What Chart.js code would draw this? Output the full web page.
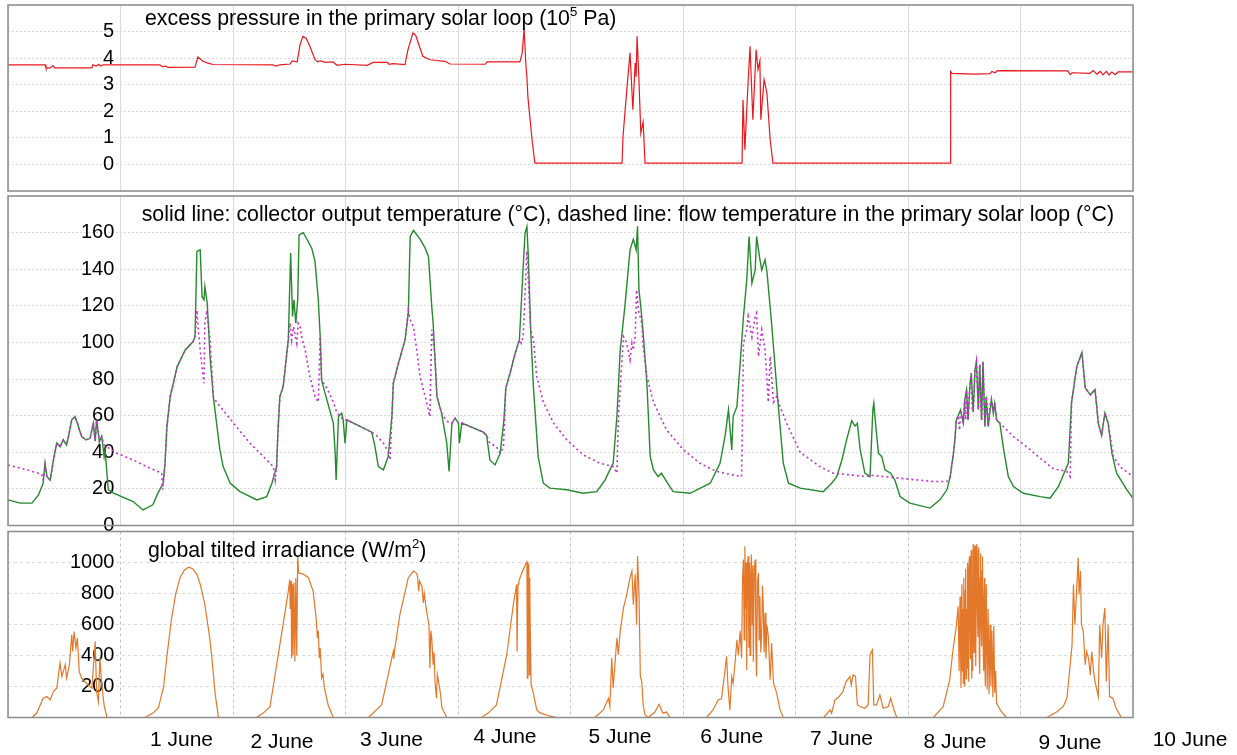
<!DOCTYPE html>
<html>
<head>
<meta charset="utf-8">
<title>Solar loop, 31 May - 10 June</title>
<script src="https://cdn.jsdelivr.net/npm/chart.js@4.4.1/dist/chart.umd.min.js"></script>
<style>
  body { margin: 0; background: #fff; }
  canvas { position: absolute; left: 0; top: 0; }
</style>
</head>
<body>
<canvas id="canvasPressure" width="1237" height="755"></canvas>
<canvas id="canvasTemp" width="1237" height="755"></canvas>
<canvas id="canvasIrr" width="1237" height="755"></canvas>
<script>
"use strict";

// time axis: hours since 31 May 00:00
var dayNames = ['1 June', '2 June', '3 June', '4 June', '5 June', '6 June', '7 June', '8 June', '9 June', '10 June'];

// excess pressure, 10^5 Pa  [hour, value]
var pressure = [
	[0, 3.75], [7.9, 3.75], [8.1, 3.63], [9.0, 3.63], [9.6, 3.72], [10.0, 3.63], [17.9, 3.63], [18.1, 3.75],
	[18.8, 3.70], [19.4, 3.77], [19.8, 3.70], [20.3, 3.75], [32.4, 3.75], [32.9, 3.68], [33.7, 3.70], [34.1, 3.65],
	[39.9, 3.66], [40.5, 4.04], [41.6, 3.88], [42.5, 3.82], [43.7, 3.76], [56.5, 3.75], [57.2, 3.70], [58.0, 3.75],
	[60.2, 3.78], [60.6, 3.90], [61.7, 3.86], [62.3, 4.50], [62.9, 4.82], [63.6, 4.75], [64.4, 4.45], [65.5, 3.94],
	[66.1, 3.86], [66.6, 3.90], [67.8, 3.84], [69.3, 3.86], [70.2, 3.73], [71.9, 3.77], [76.6, 3.73], [77.9, 3.84],
	[80.9, 3.84], [81.3, 3.77], [82.1, 3.79], [84.7, 3.76], [85.3, 4.30], [86.4, 4.95], [87.0, 4.85], [87.5, 4.58],
	[88.5, 4.07], [90.0, 3.94], [91.1, 3.92], [93.2, 3.88], [94.3, 3.78], [101.8, 3.77], [102.2, 3.86], [109.2, 3.86],
	[109.7, 4.20], [110.1, 5.10], [110.5, 3.70], [110.7, 3.30], [110.9, 2.56], [111.8, 0.92], [112.4, 0.05],
	[131.0, 0.05], [131.2, 1.05], [132.1, 3.00], [132.7, 4.20], [133.3, 2.06], [133.8, 3.82], [134.0, 3.30],
	[134.2, 4.82], [134.6, 3.19], [135.0, 1.18], [135.5, 1.60], [135.9, 0.05], [156.6, 0.05], [156.8, 2.43],
	[157.2, 0.55], [157.7, 2.43], [158.3, 4.45], [158.9, 1.68], [159.6, 4.32], [160.0, 3.57], [160.4, 3.90],
	[160.6, 1.68], [161.3, 3.19], [161.9, 2.69], [162.6, 0.92], [163.2, 0.05], [201.0, 0.05], [201.1, 3.50],
	[201.4, 3.43], [206.3, 3.40], [209.5, 3.42], [209.9, 3.50], [210.6, 3.45], [211.0, 3.52], [211.6, 3.53],
	[226.1, 3.52], [226.6, 3.38], [227.0, 3.45], [230.8, 3.43], [231.5, 3.53], [232.3, 3.40], [233.0, 3.50],
	[233.6, 3.37], [234.3, 3.50], [234.9, 3.36], [235.5, 3.48], [236.2, 3.38], [236.8, 3.48], [240, 3.48]
];

// collector output temperature, °C
var collectorTemp = [
	[0, 14.0], [2.6, 12.2], [5.1, 12.2], [6.5, 16.7], [7.5, 23.1], [7.9, 34], [8.3, 26.7], [9.0, 24.9], [9.7, 35.8],
	[10.4, 45], [11.1, 43], [11.8, 46.8], [12.5, 44], [12.9, 48.6], [13.6, 57.7], [14.3, 59.5], [14.8, 55.9],
	[15.7, 48.6], [16.6, 46.8], [17.5, 47.5], [18.2, 55.9], [18.6, 46], [18.9, 57.7], [19.5, 45.8], [20.0, 48.6],
	[20.5, 37.6], [20.7, 41.3], [21.4, 19.5], [22.4, 17.8], [26.7, 13.1], [28.8, 8.5], [30.9, 11.3], [32.0, 17.8],
	[33.1, 23.1], [33.5, 34], [33.9, 54], [34.6, 70.4], [36.1, 86.8], [37.8, 95.9], [39.5, 100.5], [39.9, 103.2],
	[40.3, 149.7], [41.0, 150.6], [41.4, 125], [41.8, 123.3], [42.0, 130.5], [42.5, 121.5], [43.1, 92.3],
	[43.8, 70.4], [45.2, 41.3], [45.9, 32.2], [47.4, 23.1], [49.5, 18.5], [53.1, 14], [55.2, 15.8], [56.3, 23.1],
	[57.3, 32.2], [57.6, 52.2], [58.0, 70.4], [58.7, 75.9], [59.8, 101.4], [60.3, 148.8], [60.7, 114.2],
	[61.0, 123.3], [61.4, 110.5], [61.8, 123.3], [62.1, 158.8], [63.0, 160], [64.8, 151.5], [65.5, 144.2],
	[66.2, 123.3], [66.6, 103.2], [66.9, 79.5], [67.6, 72.6], [69.4, 55.9], [69.8, 39.5], [70.0, 24.9],
	[70.5, 59.5], [71.2, 61.4], [71.5, 57.7], [71.9, 45], [72.3, 57.7], [73.7, 55.9], [77.6, 51], [78.3, 43],
	[79.0, 32.2], [80.1, 30.4], [81.1, 37.7], [81.9, 59.5], [82.2, 77.7], [83.3, 88.7], [84.7, 101.4], [85.4, 116],
	[85.8, 157.9], [86.5, 161.2], [87.9, 156.4], [89.0, 151.5], [89.7, 147], [90.4, 119.6], [90.7, 110.5],
	[91.5, 70.5], [92.5, 61.4], [93.6, 45], [94.1, 29.5], [94.7, 55.9], [95.4, 58.6], [96.1, 55.9], [96.3, 45],
	[96.8, 56], [101.4, 51], [102.1, 49.2], [102.8, 35.8], [103.9, 33.1], [105.0, 39.5], [105.8, 57.7],
	[106.2, 75.2], [107.1, 83.2], [108.2, 94.1], [109.1, 101.4], [109.8, 136], [110.3, 159.7], [110.7, 163.3],
	[111.0, 147], [111.5, 106.9], [112.1, 75.2], [113.1, 37.6], [114.2, 23.1], [115.6, 20.4], [119.2, 19.5],
	[122.7, 17.6], [125.6, 18.5], [127.4, 24.9], [128.4, 30.4], [129.1, 34], [129.9, 59.5], [130.6, 95.9],
	[131.6, 119.6], [132.7, 150.6], [133.4, 156.4], [134.0, 150.6], [134.3, 163.4], [134.6, 128.7], [135.0, 119.6],
	[135.5, 105.1], [136.3, 77.7], [137.0, 37.7], [137.7, 30.4], [138.7, 26.7], [139.4, 28.6], [140.5, 24],
	[141.9, 18.5], [145.5, 17.6], [149.8, 23.1], [151.9, 34], [153.0, 49.2], [153.7, 63.2], [154.4, 41.3],
	[154.7, 59.5], [155.5, 65], [156.2, 88.7], [156.9, 114.2], [157.6, 134.2], [158.1, 157.9], [158.7, 132.3],
	[159.4, 139.6], [159.7, 157.9], [160.3, 147], [160.8, 139.6], [161.5, 145.2], [161.9, 138.8], [162.9, 110.5],
	[164.0, 75.2], [165.4, 34], [166.5, 23.1], [169.0, 20.4], [173.9, 18.5], [175.7, 23.1], [176.8, 26.7],
	[177.9, 35.8], [178.9, 46.8], [180.0, 57.2], [180.7, 54.3], [181.2, 55.9], [181.8, 41.3], [182.8, 28.6],
	[183.9, 26.7], [184.5, 63.2], [184.7, 66.8], [185.2, 52.2], [185.7, 39.5], [186.4, 37.6], [187.1, 30.4],
	[188.3, 28.6], [189.2, 24.9], [190.3, 15.8], [192.4, 12.2], [196.7, 9.5], [198.8, 14], [200.3, 19.5],
	[201.0, 26.7], [201.7, 39.5], [202.0, 46.8], [202.3, 57.7], [202.7, 60], [203.2, 63.2], [203.8, 56],
	[204.1, 68.6], [204.5, 74.1], [204.8, 57.7], [205.2, 75.9], [205.5, 83.2], [205.9, 62], [206.3, 85],
	[206.6, 89.6], [207.0, 63.2], [207.3, 88], [207.7, 57.7], [208.0, 89.6], [208.4, 54], [208.7, 70.4],
	[209.1, 54], [209.8, 68.9], [210.2, 61.4], [210.5, 66.8], [210.9, 57.7], [211.6, 55.9], [212.3, 43.1],
	[213.4, 26.7], [214.5, 21.3], [216.6, 17.6], [220.2, 15.8], [222.3, 14.9], [224.1, 21.3], [226.2, 34],
	[226.9, 67.4], [228.0, 86.8], [229.1, 94.5], [229.8, 75.2], [230.9, 71.4], [231.9, 74.3], [232.6, 55.9],
	[233.3, 49.2], [234.0, 61.4], [234.7, 55.9], [235.5, 39.5], [236.5, 28.6], [238.7, 19.5], [240, 14.9]
];

// flow temperature in the primary solar loop, °C
var flowTemp = [
	[0, 33], [4.0, 30.4], [7.2, 28], [7.5, 25], [7.9, 33], [8.3, 26.7], [9.0, 24.9], [9.7, 35.8], [10.4, 45],
	[11.1, 43], [11.8, 46.8], [12.5, 44], [12.9, 48.6], [13.6, 57.7], [14.3, 59.5], [14.8, 55.9], [15.7, 48.6],
	[16.6, 46.8], [17.5, 47.5], [18.2, 55.9], [18.6, 46], [18.9, 57.7], [19.5, 45.8], [20.0, 48.6], [20.5, 44],
	[21.1, 43], [23.2, 39.5], [26.7, 35.8], [30.3, 31.3], [32.8, 28.6], [33.0, 19.5], [33.5, 34], [33.9, 54],
	[34.6, 70.4], [36.1, 86.8], [37.8, 95.9], [39.5, 100.5], [39.9, 103.2], [40.3, 117.6], [40.6, 106.9],
	[41.0, 95.9], [41.3, 88.7], [41.8, 77.7], [42.0, 110.5], [42.4, 117.6], [42.7, 110.5], [43.1, 101.4],
	[43.8, 70.4], [44.5, 67.4], [48.1, 55.9], [51.6, 45], [55.2, 35.8], [56.6, 32.2], [57.0, 24.9], [57.3, 32.2],
	[57.6, 52.2], [58.0, 70.4], [58.7, 75.9], [59.8, 101.4], [60.2, 110.5], [60.5, 101.4], [60.9, 108.6],
	[61.6, 99.6], [61.9, 110.5], [62.3, 108.6], [62.7, 102.3], [63.4, 95.9], [64.4, 81.3], [65.5, 70.4],
	[66.2, 67.4], [66.6, 103.2], [66.9, 79.5], [68.0, 75.2], [69.4, 67.4], [70.1, 62], [71.5, 57.7], [72.3, 57.7],
	[73.7, 55.9], [77.6, 51], [78.6, 49.2], [80.1, 45], [81.1, 40.3], [81.5, 35.8], [81.9, 59.5], [82.2, 77.7],
	[83.3, 88.7], [84.7, 101.4], [85.4, 117.6], [85.8, 112.4], [86.5, 108.6], [87.2, 95.9], [87.9, 81.3],
	[89.0, 70.4], [90.0, 59.5], [90.4, 106.9], [90.7, 101.4], [91.1, 92.3], [91.5, 70.5], [92.5, 61.4],
	[93.6, 57], [94.7, 55.9], [95.4, 58.6], [96.1, 55.9], [96.8, 56], [101.4, 51], [102.1, 49.2], [102.8, 45],
	[104.2, 43], [105.0, 39.5], [105.7, 43], [106.2, 75.2], [107.1, 83.2], [108.2, 94.1], [109.1, 101.4],
	[109.5, 99.6], [109.9, 103.2], [110.7, 150], [111.5, 106.9], [112.1, 101.4], [112.8, 81.3], [114.2, 67.4],
	[116.4, 55.9], [119.2, 46.8], [122.7, 38.6], [126.3, 34], [129.1, 32.2], [129.9, 28.6], [130.2, 57.7],
	[130.6, 75], [131.3, 103.2], [132.0, 99.6], [132.7, 90.5], [133.1, 99.6], [133.4, 95.9], [133.8, 103.2],
	[134.1, 128.7], [134.5, 117.6], [135.2, 110.5], [135.5, 97.7], [136.3, 81.3], [137.7, 67.4], [140.5, 52.2],
	[144.1, 41.3], [147.6, 34], [151.2, 29.5], [154.7, 27.6], [156.5, 26.7], [156.9, 99.6], [157.6, 106.9],
	[157.9, 114.2], [158.7, 103], [159.4, 114.2], [159.7, 116], [160.1, 92.3], [160.8, 106.9], [161.5, 95.9],
	[162.2, 67.4], [162.6, 92.3], [162.9, 81.3], [163.3, 67.4], [164.0, 70.4], [164.7, 65], [166.1, 55.9],
	[169.0, 40], [173.2, 32.2], [176.0, 28.6], [183.2, 26.7], [183.9, 27.5], [190.3, 25.8], [197.4, 24],
	[200.3, 24], [201.0, 26.7], [201.7, 39.5], [202.0, 46.8], [202.3, 57.7], [202.7, 60], [203.0, 52],
	[203.2, 63.2], [203.8, 56], [204.1, 68.6], [204.3, 58], [204.5, 74.1], [204.8, 57.7], [205.2, 75.9],
	[205.5, 83.2], [205.7, 64], [205.9, 62], [206.3, 85], [206.6, 89.6], [207.0, 63.2], [207.3, 88], [207.5, 66],
	[207.7, 57.7], [208.0, 89.6], [208.4, 54], [208.7, 70.4], [209.1, 54], [209.5, 66], [209.8, 68.9],
	[210.2, 61.4], [210.5, 66.8], [210.9, 57.7], [211.6, 55.9], [214.5, 48.6], [218.1, 41.3], [220.2, 36.8],
	[223.0, 31], [225.9, 29.5], [226.6, 26.7], [226.9, 67.4], [228.0, 86.8], [229.1, 94.5], [229.8, 75.2],
	[230.9, 71.4], [231.9, 74.3], [232.6, 55.9], [233.3, 49.2], [234.0, 61.4], [234.7, 55.9], [235.8, 37.7],
	[237.2, 32.2], [240, 26.7]
];

// global tilted irradiance, W/m²
var irradiance = [
	[0, 0], [5.1, 0], [6.1, 27], [7.5, 124], [8.3, 135], [9.0, 113], [9.7, 167], [10.4, 189], [11.1, 351],
	[11.5, 264], [12.2, 340], [12.5, 254], [13.1, 340], [13.6, 534], [13.8, 426], [14.1, 555], [14.5, 448],
	[14.8, 513], [15.2, 296], [15.7, 254], [16.4, 232], [17.1, 210], [17.9, 189], [18.6, 491], [18.9, 167],
	[19.3, 102], [19.6, 383], [20.0, 210], [20.5, 81], [21.1, 0],
	[29.2, 0], [31, 30], [32.1, 63], [33.2, 200], [34, 420], [34.9, 640], [35.8, 800], [36.7, 902], [37.6, 950],
	[38.5, 970], [39.4, 960], [40.3, 922], [41.1, 850], [42, 728], [43, 520], [43.5, 383], [44.2, 150], [44.9, 0],
	[53, 0], [54.5, 30], [55.9, 70], [59.8, 814], [60.1, 890], [60.2, 700], [60.4, 880], [60.5, 383], [60.6, 860],
	[60.8, 400], [61.0, 870], [61.2, 361], [61.4, 900], [61.6, 400], [61.8, 1043], [62.0, 933], [63.0, 925],
	[64.1, 902], [65.1, 814], [65.8, 620], [66.0, 513], [66.2, 560], [66.4, 383], [66.6, 450], [66.9, 254],
	[67.2, 280], [67.5, 189], [68.3, 81], [69.4, 0],
	[76.9, 0], [79.7, 81], [81.1, 275], [82.2, 426], [82.3, 380], [82.5, 440], [83.6, 663], [85.4, 902],
	[86.5, 945], [87.2, 930], [87.4, 902], [87.6, 814], [87.8, 880], [88.3, 847], [88.6, 739], [88.8, 800],
	[89.3, 685], [89.8, 599], [90.0, 318], [90.2, 560], [90.4, 513], [90.7, 340], [90.9, 420], [91.1, 232],
	[91.4, 124], [91.6, 275], [92.2, 167], [92.6, 60], [93.6, 0],
	[101, 0], [102.5, 30], [104.2, 81], [106.4, 405], [107.8, 728], [108.5, 858], [108.6, 426], [108.8, 860],
	[109.0, 880], [109.6, 933], [110.4, 987], [110.7, 1003], [110.8, 254], [110.9, 1003], [111.0, 450],
	[111.1, 990], [111.2, 275], [111.3, 900], [111.4, 599], [111.6, 210], [112.0, 167], [112.8, 49], [113.5, 30],
	[115.5, 10], [117, 0],
	[125.2, 0], [127, 49], [128.1, 124], [128.4, 71], [128.8, 383], [129.1, 189], [129.9, 513], [130.2, 405],
	[130.6, 556], [131.3, 707], [132.0, 793], [132.7, 902], [133.1, 945], [133.4, 728], [133.8, 922], [134.1, 599],
	[134.3, 1041], [134.6, 814], [134.9, 264], [135.2, 232], [135.5, 81], [135.9, 17], [136.6, 0], [138.0, 35],
	[138.9, 85], [139.7, 28], [140.5, 35], [141.2, 0],
	[149.0, 0], [150.4, 49], [151.5, 113], [152.2, 120], [152.9, 286], [153.3, 394], [153.6, 200], [154.0, 49],
	[154.4, 264], [154.7, 220], [155.1, 350], [155.5, 502], [155.8, 400], [156.2, 560], [156.5, 383],
	[156.7, 900], [156.9, 1019], [157.05, 500], [157.2, 1105], [157.35, 700], [157.5, 1000], [157.6, 307],
	[157.75, 980], [157.9, 1041], [158.05, 450], [158.2, 1000], [158.3, 400], [158.45, 900], [158.6, 1052],
	[158.75, 600], [158.9, 980], [159.0, 360], [159.2, 960], [159.4, 1019], [159.55, 450], [159.7, 264],
	[159.9, 880], [160.1, 932], [160.25, 500], [160.4, 782], [160.6, 420], [160.8, 567], [160.95, 850],
	[161.1, 740], [161.3, 420], [161.5, 675], [161.7, 380], [161.9, 600], [162.2, 524], [162.6, 243],
	[162.9, 480], [163.3, 221], [164.0, 157], [164.7, 49], [165.4, 0],
	[174.0, 0], [175.4, 49], [175.7, 27], [176.4, 113], [177.3, 135], [178.1, 167], [178.8, 232], [179.6, 264],
	[179.9, 210], [180.3, 275], [180.8, 264], [181.2, 81], [181.8, 71], [182.8, 60], [183.5, 81], [183.9, 405],
	[184.4, 437], [184.7, 81], [185.3, 81], [186.0, 146], [186.7, 60], [187.8, 71], [188.3, 124], [188.9, 60],
	[189.6, 0],
	[197.4, 0], [199.5, 70], [200.9, 243], [201.6, 437], [202.3, 588], [202.7, 717], [202.9, 300], [203.1, 780],
	[203.3, 190], [203.5, 860], [203.6, 300], [203.7, 700], [203.8, 220], [203.9, 900], [204.0, 400],
	[204.1, 200], [204.2, 820], [204.3, 960], [204.4, 250], [204.5, 700], [204.6, 320], [204.7, 1000],
	[204.8, 500], [204.9, 230], [205.0, 950], [205.1, 1040], [205.2, 600], [205.3, 380], [205.4, 1000],
	[205.5, 1080], [205.6, 250], [205.7, 800], [205.8, 300], [205.9, 1117], [206.0, 700], [206.1, 420],
	[206.2, 1050], [206.3, 1110], [206.4, 500], [206.5, 330], [206.6, 1000], [206.7, 1120], [206.8, 700],
	[206.9, 520], [207.0, 1080], [207.1, 1100], [207.2, 400], [207.3, 280], [207.4, 900], [207.5, 1060],
	[207.6, 600], [207.7, 460], [207.8, 950], [207.9, 1040], [208.0, 500], [208.1, 300], [208.2, 700],
	[208.3, 900], [208.4, 350], [208.5, 200], [208.7, 860], [208.9, 180], [209.1, 700], [209.3, 150],
	[209.5, 600], [209.7, 200], [209.9, 560], [210.1, 130], [210.3, 590], [210.5, 160], [210.7, 300],
	[210.9, 92], [211.9, 37], [213.0, 0],
	[221.6, 0], [223.7, 35], [225.1, 70], [225.9, 124], [226.6, 340], [227.0, 470], [227.3, 858], [227.6, 599],
	[228.0, 836], [228.3, 1030], [228.5, 793], [228.8, 945], [229.0, 599], [229.4, 556], [229.8, 340],
	[230.1, 426], [230.5, 383], [230.9, 275], [231.2, 426], [231.6, 296], [231.9, 232], [232.6, 135],
	[232.9, 599], [233.3, 383], [233.6, 599], [234.0, 707], [234.3, 232], [234.7, 599], [235.0, 135],
	[235.7, 124], [236.4, 60], [237.2, 17], [237.5, 0], [240, 0]
];

var FONT = '"Liberation Sans", Arial, Helvetica, sans-serif';

function ToPoints(pairs) {
	return pairs.map(function (p) { return { x: p[0], y: p[1] }; });
}

function ZeroFit(scale) {
	if (scale.axis === 'y') scale.width = 0;
	scale.paddingTop = 0;
	scale.paddingBottom = 0;
	scale.paddingLeft = 0;
	scale.paddingRight = 0;
}

function TimeScale(gridColor, dash) {
	return {
		type: 'linear',
		min: 0,
		max: 240,
		ticks: { display: false, stepSize: 24 },
		grid: { color: gridColor, drawTicks: false, lineWidth: 1 },
		border: { display: false, dash: dash },
		afterFit: ZeroFit
	};
}

function ValueScale(min, max, step, hidden, padding) {
	return {
		type: 'linear',
		min: min,
		max: max,
		ticks: {
			stepSize: step,
			autoSkip: false,
			mirror: true,
			crossAlign: 'far',
			padding: padding,
			color: '#000',
			font: { family: FONT, size: 20 },
			callback: function (v) { return hidden.indexOf(v) >= 0 ? '' : String(v); }
		},
		grid: { color: '#dadada', drawTicks: false, lineWidth: 1 },
		border: { display: false, dash: [2, 2] },
		afterFit: ZeroFit
	};
}

// frame around the plot area and the rich-text title (with superscripts)
var panelDecor = {
	id: 'panelDecor',
	afterDraw: function (chart, args, opts) {
		var ctx = chart.ctx;
		var a = chart.chartArea;
		ctx.save();
		ctx.strokeStyle = '#8c8c8c';
		ctx.lineWidth = 1.5;
		ctx.strokeRect(a.left, a.top, a.right - a.left, a.bottom - a.top);
		ctx.fillStyle = '#000';
		ctx.textAlign = 'left';
		ctx.textBaseline = 'alphabetic';
		var x = opts.x;
		opts.title.forEach(function (part) {
			var size = part.sup ? opts.size * 0.62 : opts.size;
			ctx.font = size + 'px ' + FONT;
			ctx.fillText(part.text, x, part.sup ? opts.y - opts.size * 0.42 : opts.y);
			x += ctx.measureText(part.text).width;
		});
		ctx.restore();
	}
};

// day names under the bottom panel
var dayAxis = {
	id: 'dayAxis',
	afterDraw: function (chart, args, opts) {
		var ctx = chart.ctx;
		var xs = chart.scales.x;
		ctx.save();
		ctx.fillStyle = '#000';
		ctx.font = opts.size + 'px ' + FONT;
		ctx.textAlign = 'center';
		ctx.textBaseline = 'middle';
		dayNames.forEach(function (name, i) {
			var px = xs.getPixelForValue(24 * (i + 1)) + opts.dx[i];
			ctx.fillText(name, px, opts.y[i]);
		});
		ctx.restore();
	}
};

function BaseOptions(padding, scales, decor) {
	return {
		responsive: false,
		animation: false,
		events: [],
		layout: { padding: padding },
		elements: { point: { radius: 0 }, line: { tension: 0 } },
		scales: scales,
		plugins: {
			legend: { display: false },
			tooltip: { enabled: false },
			panelDecor: decor
		}
	};
}

// top: pressure
new Chart(document.getElementById('canvasPressure'), {
	type: 'line',
	data: {
		datasets: [{
			data: ToPoints(pressure),
			borderColor: 'rgb(232, 24, 30)',
			borderWidth: 1.2
		}]
	},
	options: BaseOptions(
		{ left: 8, top: 5, right: 104, bottom: 564 },
		{ x: TimeScale('#dadada', []), y: ValueScale(-1, 6, 1, [-1, 6], 95) },
		{
			x: 145, y: 25, size: 21.3,
			title: [{ text: 'excess pressure in the primary solar loop (10' }, { text: '5', sup: true }, { text: ' Pa)' }]
		}
	),
	plugins: [panelDecor]
});

// middle: temperatures (dashed drawn on top)
new Chart(document.getElementById('canvasTemp'), {
	type: 'line',
	data: {
		datasets: [{
			data: ToPoints(flowTemp),
			borderColor: 'rgb(196, 48, 206)',
			borderWidth: 1.6,
			borderDash: [2, 3]
		}, {
			data: ToPoints(collectorTemp),
			borderColor: 'rgb(38, 138, 44)',
			borderWidth: 1.4
		}]
	},
	options: BaseOptions(
		{ left: 8, top: 196, right: 104, bottom: 229.5 },
		{ x: TimeScale('#dadada', []), y: ValueScale(0, 180, 20, [180], 73) },
		{
			x: 141.7, y: 220.5, size: 21.3,
			title: [{ text: 'solid line: collector output temperature (°C), dashed line: flow temperature in the primary solar loop (°C)' }]
		}
	),
	plugins: [panelDecor]
});

// bottom: irradiance
var irrOptions = BaseOptions(
	{ left: 8, top: 531.5, right: 104, bottom: 37.5 },
	{ x: TimeScale('#c2c2c2', [3, 3]), y: ValueScale(0, 1200, 200, [0, 1200], 62) },
	{
		x: 148, y: 556.7, size: 21.3,
		title: [{ text: 'global tilted irradiance (W/m' }, { text: '2', sup: true }, { text: ')' }]
	}
);
irrOptions.scales.y.border.dash = [3, 3];
irrOptions.plugins.dayAxis = {
	size: 21,
	dx: [61, 49, 46, 47, 49.5, 48.7, 46, 47, 49.5, 57],
	y: [740.5, 742.5, 740.5, 737.5, 737.5, 737.5, 739, 742, 743, 740]
};

new Chart(document.getElementById('canvasIrr'), {
	type: 'line',
	data: {
		datasets: [{
			data: ToPoints(irradiance),
			borderColor: 'rgb(228, 120, 42)',
			borderWidth: 1.2
		}]
	},
	options: irrOptions,
	plugins: [panelDecor, dayAxis]
});
</script>
</body>
</html>
